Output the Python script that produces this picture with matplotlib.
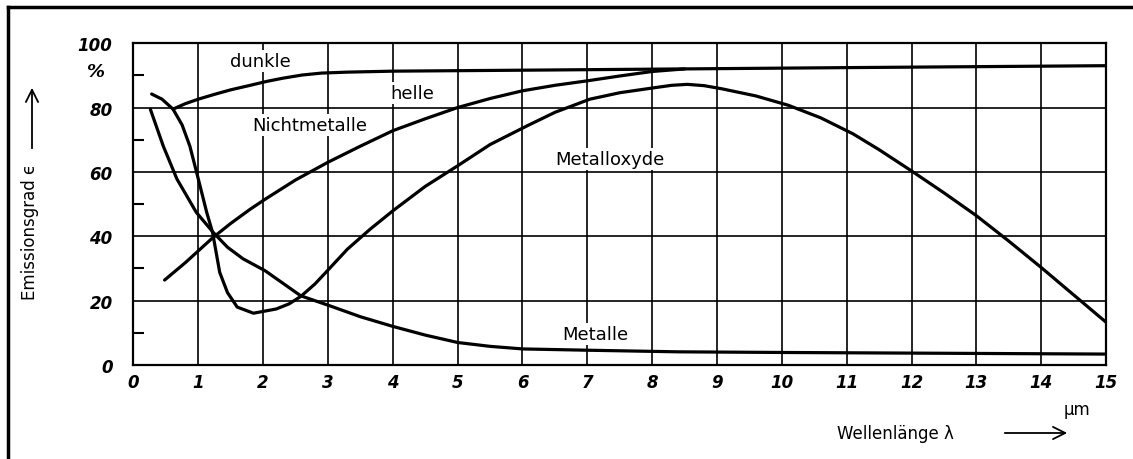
import numpy as np
import matplotlib.pyplot as plt
from matplotlib.lines import Line2D

# curves (x in um, y in %)
dunkle_x = [0.61, 0.8, 1.0, 1.25, 1.5, 1.8, 2.05, 2.3, 2.6, 2.9, 3.3, 4.0, 6.0, 8.5, 11.0, 13.0, 15.0]
dunkle_y = [79.5, 81.2, 82.6, 84.1, 85.5, 86.9, 88.1, 89.1, 90.1, 90.7, 91.0, 91.3, 91.6, 92.0, 92.4, 92.7, 93.0]

helle_x = [0.48, 0.8, 1.22, 1.5, 1.8, 2.03, 2.5, 3.0, 3.5, 4.0, 4.5, 5.0, 5.5, 6.0, 6.5, 7.0, 7.5, 8.0, 8.5]
helle_y = [26.4, 31.8, 39.5, 44.0, 48.4, 51.5, 57.5, 63.0, 68.0, 72.8, 76.5, 80.0, 82.8, 85.2, 86.9, 88.3, 89.8, 91.2, 92.0]

oxyd_x = [0.28, 0.44, 0.61, 0.75, 0.87, 1.0, 1.13, 1.22, 1.33, 1.45, 1.6, 1.85, 2.2, 2.4, 2.58, 2.8, 3.0,
          3.3, 3.65, 4.0, 4.5, 5.0, 5.5, 6.07, 6.5, 7.04, 7.5, 8.05, 8.3, 8.54, 8.8, 9.08, 9.6, 10.1, 10.6,
          11.1, 11.5, 12.0, 12.5, 13.0, 13.5, 14.0, 14.5, 15.0]
oxyd_y = [84.2, 82.6, 79.5, 74.6, 68.0, 57.8, 47.4, 41.2, 28.8, 22.5, 18.0, 16.1, 17.4, 19.0, 21.3, 25.2, 29.5,
          36.0, 42.2, 47.9, 55.5, 61.9, 68.5, 74.3, 78.5, 82.6, 84.6, 86.2, 86.9, 87.2, 86.8, 85.8, 83.6, 80.7, 76.8,
          71.8, 66.9, 60.3, 53.5, 46.4, 38.5, 30.3, 21.8, 13.3]

metall_x = [0.26, 0.46, 0.67, 0.97, 1.23, 1.45, 1.69, 2.03, 2.58, 3.0, 3.5, 4.0, 4.5, 5.0, 5.5, 6.0, 7.0, 8.4, 10.0, 12.0, 15.0]
metall_y = [79.5, 68.0, 57.8, 47.4, 41.2, 36.6, 33.0, 29.3, 21.5, 18.6, 15.0, 12.0, 9.3, 7.0, 5.8, 5.0, 4.6, 4.1, 3.9, 3.7, 3.4]

labels = ["dunkle", "helle", "Nichtmetalle", "Metalloxyde", "Metalle"]
label_x = [1.95, 4.3, 2.72, 7.35, 7.12]
label_y = [94.4, 84.5, 74.5, 64.0, 9.6]

xticks = list(range(0, 16))
yticks = [0, 20, 40, 60, 80, 100]

fig = plt.figure(figsize=(11.33, 4.6), dpi=100)
ax = fig.add_axes([0.1178, 0.2043, 0.8584, 0.6997])

ax.set_xlim(0, 15)
ax.set_ylim(0, 100)
ax.set_xticks(xticks)
ax.set_yticks(yticks)
ax.set_xticklabels([str(t) for t in xticks], fontstyle='italic', fontweight='bold', fontsize=12)
ax.set_yticklabels([str(t) for t in yticks], fontstyle='italic', fontweight='bold', fontsize=12)
ax.tick_params(axis='both', length=0)
ax.tick_params(axis='y', pad=15)
ax.tick_params(axis='x', pad=6)
ax.set_yticks([10, 30, 50, 70, 90], minor=True)
ax.tick_params(axis='y', which='minor', direction='in', length=8, width=1.5)

ax.grid(True, which='major', color='black', linewidth=1.2)
for s in ax.spines.values():
    s.set_linewidth(1.6)

lw = 2.3
ax.plot(dunkle_x, dunkle_y, color='black', lw=lw, solid_capstyle='round', solid_joinstyle='round')
ax.plot(helle_x, helle_y, color='black', lw=lw, solid_capstyle='round', solid_joinstyle='round')
ax.plot(oxyd_x, oxyd_y, color='black', lw=lw, solid_capstyle='round', solid_joinstyle='round')
ax.plot(metall_x, metall_y, color='black', lw=lw, solid_capstyle='round', solid_joinstyle='round')

for t, x, y in zip(labels, label_x, label_y):
    ax.text(x, y, t, fontsize=13, ha='center', va='center', zorder=5,
            bbox=dict(facecolor='white', edgecolor='none', pad=1.5))

# percent sign near the 90 mark
fig.text(96 / 1133, 1 - 72 / 460, "%", fontsize=13, fontweight='bold', fontstyle='italic',
         ha='center', va='center')

# axis titles with arrows
fig.text(30 / 1133, 1 - 232 / 460, "Emissionsgrad \u03f5", rotation=90, fontsize=12,
         ha='center', va='center')
fig.add_artist(plt.Annotation("", xy=(32 / 1133, 1 - 86 / 460), xytext=(32 / 1133, 1 - 152 / 460),
                              xycoords='figure fraction', textcoords='figure fraction',
                              arrowprops=dict(arrowstyle='->', lw=1.3, color='black', mutation_scale=22)))
fig.text(895 / 1133, 1 - 434 / 460, "Wellenl\u00e4nge \u03bb", fontsize=12, ha='center', va='center')
fig.add_artist(plt.Annotation("", xy=(1070 / 1133, 1 - 434 / 460), xytext=(1002 / 1133, 1 - 434 / 460),
                              xycoords='figure fraction', textcoords='figure fraction',
                              arrowprops=dict(arrowstyle='->', lw=1.3, color='black', mutation_scale=22)))
fig.text(1077 / 1133, 1 - 410 / 460, "\u03bcm", fontsize=12, ha='center', va='center')

# outer frame of the scan (left and top edges)
fig.add_artist(Line2D([8 / 1133, 8 / 1133], [0, 1 - 8 / 460], transform=fig.transFigure, color='black', lw=2.5))
fig.add_artist(Line2D([8 / 1133, 1], [1 - 8 / 460, 1 - 8 / 460], transform=fig.transFigure, color='black', lw=2.5))

fig.savefig("out.png", dpi=100)
